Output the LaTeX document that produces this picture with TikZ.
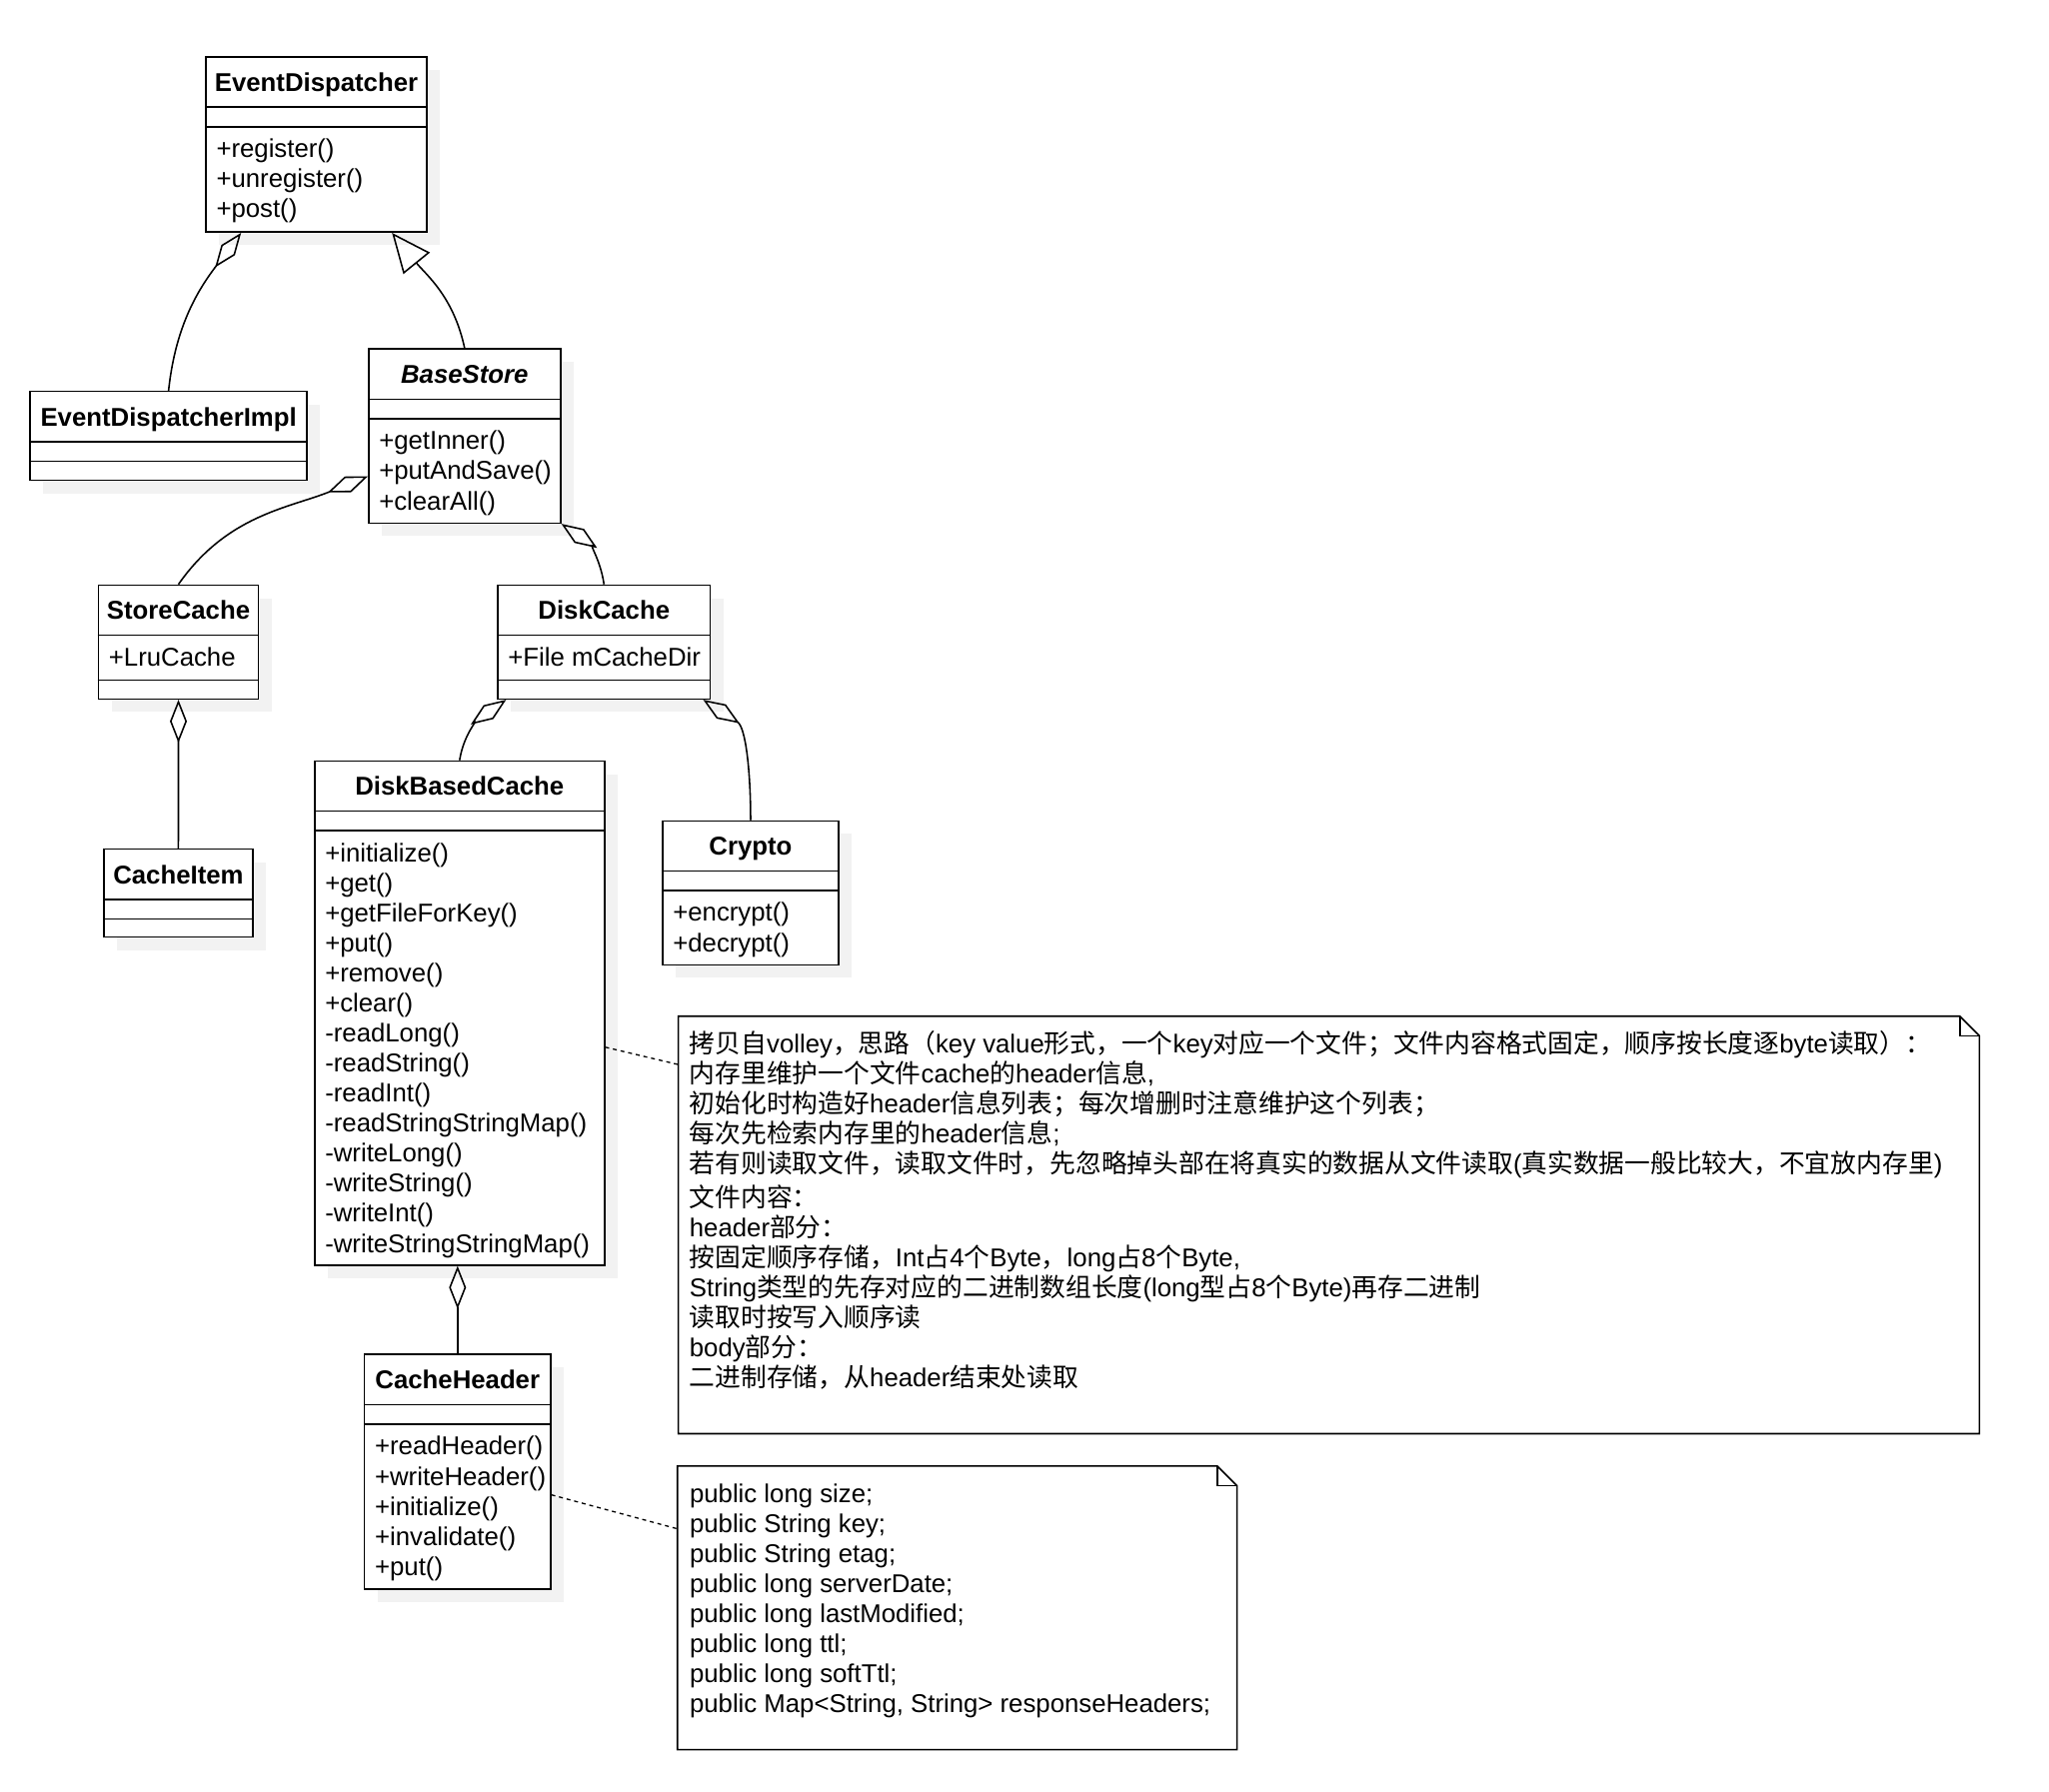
\documentclass[tikz,border=0pt]{standalone}
\usepackage{fontspec}
\setmainfont{Liberation Sans}
\newfontfamily\cjk{Noto Sans CJK SC}
\usetikzlibrary{arrows.meta, calc, shadows}
\newcommand\zh[1]{{\cjk #1}}
\newcommand\ls{\rule[-5pt]{0pt}{23pt}}

\begin{document}
\begin{tikzpicture}[x=1pt, y=1pt, line width=1.2pt,
    every node/.style={font=\fontsize{19.7}{23}\selectfont, inner sep=0pt},
    classbox/.style={draw, fill=white, anchor=north west,
      general shadow={fill=black!5, shadow xshift=10pt, shadow yshift=-10pt}},
    title/.style={font=\fontsize{19.7}{23}\selectfont\bfseries, anchor=base},
    ops/.style={align=left, anchor=north west},
    notebox/.style={anchor=north west},
    agg/.style={-{Diamond[open, length=33pt, width=13pt]}},
    gen/.style={-{Triangle[open, length=30pt, width=26pt]}},
    link/.style={dash pattern=on 3pt off 3pt, line width=1pt}]
    \useasboundingbox (0, 0) rectangle (1568, -1371);

    % draw class boxes
    \node[classbox, minimum width=169pt, minimum height=134pt] (ed) at (157, -43) {};
    \node[classbox, minimum width=211.8pt, minimum height=68pt] (impl) at (22.5, -299) {};
    \node[classbox, minimum width=146.9pt, minimum height=133.2pt] (bs) at (281.5, -266.5) {};
    \node[classbox, minimum width=122.5pt, minimum height=87.1pt] (sc) at (74.7, -447.2) {};
    \node[classbox, minimum width=162.6pt, minimum height=87.1pt] (dc) at (380.3, -447.2) {};
    \node[classbox, minimum width=113.8pt, minimum height=67.3pt] (ci) at (79, -649.2) {};
    \node[classbox, minimum width=221.8pt, minimum height=385.8pt] (dbc) at (240.2, -581.8) {};
    \node[classbox, minimum width=134.8pt, minimum height=110.2pt] (cr) at (506.4, -627.6) {};
    \node[classbox, minimum width=142.5pt, minimum height=179.6pt] (ch) at (278.3, -1036) {};

    % draw compartment lines
    \foreach \c/\a/\b in {ed/39/54, impl/39/54, bs/39/54, sc/39/73.4, dc/39/73.4,
                          ci/39/54, dbc/39/54, cr/39/54, ch/39/54} {
      \draw ($(\c.north west)+(0,-\a)$) -- ($(\c.north east)+(0,-\a)$);
      \draw ($(\c.north west)+(0,-\b)$) -- ($(\c.north east)+(0,-\b)$);
    }

    % draw class names
    \foreach \c/\t in {ed/EventDispatcher, impl/EventDispatcherImpl, bs/\textit{BaseStore},
                       sc/StoreCache, dc/DiskCache, ci/CacheItem, dbc/DiskBasedCache,
                       cr/Crypto, ch/CacheHeader}
      \node[title] (\c-t) at ($(\c.north)+(0,-27)$) {\t};

    % draw members
    \node[ops] (ed-m) at ($(ed.north west)+(8,-59)$) {\ls+register()\\+unregister()\\+post()};
    \node[ops] (bs-m) at ($(bs.north west)+(8,-59)$) {\ls+getInner()\\+putAndSave()\\+clearAll()};
    \node[ops] (sc-a) at ($(sc.north west)+(8,-44)$) {\ls+LruCache};
    \node[ops] (dc-a) at ($(dc.north west)+(8,-44)$) {\ls+File mCacheDir};
    \node[ops] (dbc-m) at ($(dbc.north west)+(8,-59)$) {\ls+initialize()\\+get()\\+getFileForKey()\\
      +put()\\+remove()\\+clear()\\-readLong()\\-readString()\\-readInt()\\-readStringStringMap()\\
      -writeLong()\\-writeString()\\-writeInt()\\-writeStringStringMap()};
    \node[ops] (cr-m) at ($(cr.north west)+(8,-59)$) {\ls+encrypt()\\+decrypt()};
    \node[ops] (ch-m) at ($(ch.north west)+(8,-59)$) {\ls+readHeader()\\+writeHeader()\\
      +initialize()\\+invalidate()\\+put()};

    % draw notes
    \node[notebox, minimum width=994.4pt, minimum height=318.3pt] (n1) at (519.1, -777.7) {};
    \draw (n1.north west) -- ($(n1.north east)+(-15,0)$) -- ($(n1.north east)+(0,-15)$)
      -- (n1.south east) -- (n1.south west) -- cycle;
    \draw ($(n1.north east)+(-15,0)$) |- ($(n1.north east)+(0,-15)$);
    \node[ops] (n1-t) at ($(n1.north west)+(8,-9.5)$) {\ls\zh{拷贝自}volley\zh{，思路（}key value\zh{形式，一个}key\zh{对应一个文件；文件内容格式固定，顺序按长度逐}byte\zh{读取）：}\\
      \zh{内存里维护一个文件}cache\zh{的}header\zh{信息},\\
      \zh{初始化时构造好}header\zh{信息列表；每次增删时注意维护这个列表；}\\
      \zh{每次先检索内存里的}header\zh{信息};\\
      \zh{若有则读取文件，读取文件时，先忽略掉头部在将真实的数据从文件读取}(\zh{真实数据一般比较大，不宜放内存里})\\[2.5pt]
      \zh{文件内容：}\\
      header\zh{部分：}\\
      \zh{按固定顺序存储，}Int\zh{占}4\zh{个}Byte\zh{，}long\zh{占}8\zh{个}Byte,\\
      String\zh{类型的先存对应的二进制数组长度}(long\zh{型占}8\zh{个}Byte)\zh{再存二进制}\\
      \zh{读取时按写入顺序读}\\
      body\zh{部分：}\\
      \zh{二进制存储，从}header\zh{结束处读取}};

    \node[notebox, minimum width=427pt, minimum height=215.8pt] (n2) at (518.4, -1122) {};
    \draw (n2.north west) -- ($(n2.north east)+(-15,0)$) -- ($(n2.north east)+(0,-15)$)
      -- (n2.south east) -- (n2.south west) -- cycle;
    \draw ($(n2.north east)+(-15,0)$) |- ($(n2.north east)+(0,-15)$);
    \node[ops] (n2-t) at ($(n2.north west)+(8.8,-9)$) {\ls public long size;\\public String key;\\
      public String etag;\\public long serverDate;\\public long lastModified;\\public long ttl;\\
      public long softTtl;\\public Map<String, String> responseHeaders;};

    % draw generalization and aggregations
    \draw[agg] (impl.north) to[out=84, in=233] ($(ed.south west)+(27.5,0)$);
    \draw[gen] (bs.north) to[out=102, in=309] ($(ed.south west)+(143,0)$);
    \draw[agg] (sc.north) to[out=55, in=202] ($(bs.north west)+(0,-98)$);
    \draw[agg] (dc.north) to[out=98, in=326] (bs.south east);
    \draw[agg] (ci.north) -- (sc.south);
    \draw[agg] (dbc.north) to[out=81, in=215] ($(dc.south west)+(7,0)$);
    \draw[agg] (cr.north) to[out=90, in=327] ($(dc.south east)+(-6,0)$);
    \draw[agg] (ch.north) -- (ch.north |- dbc.south);

    % draw note links
    \draw[link] ($(dbc.north east)+(0,-219.6)$) -- ($(n1.north west)+(0,-37)$);
    \draw[link] ($(ch.north east)+(0,-108)$) -- ($(n2.north west)+(0,-48)$);

\end{tikzpicture}
\end{document}
